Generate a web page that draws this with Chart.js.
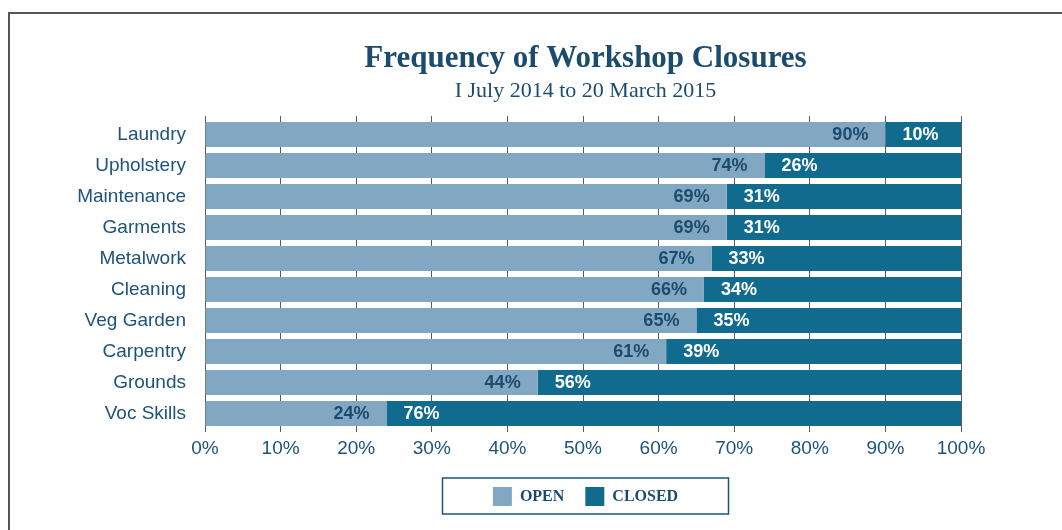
<!DOCTYPE html>
<html>
<head>
<meta charset="utf-8">
<script src="https://cdn.jsdelivr.net/npm/chart.js@4/dist/chart.umd.min.js"></script>
<style>
  html, body { margin: 0; padding: 0; background: #fff; overflow: hidden; }
  #frame { position: absolute; left: 8px; top: 12px; width: 1200px; height: 600px;
           border-top: 2px solid #555; border-left: 2px solid #555; }
  #wrap { position: absolute; left: 10px; top: 0; width: 1151px; height: 530px; }
</style>
</head>
<body>
<div id="frame"></div>
<div id="wrap"><canvas id="chart_workshopClosures"></canvas></div>
<script>
// categories and shares (percent)
var workshops = ['Laundry', 'Upholstery', 'Maintenance', 'Garments', 'Metalwork',
                 'Cleaning', 'Veg Garden', 'Carpentry', 'Grounds', 'Voc Skills'];
var openPct   = [90, 74, 69, 69, 67, 66, 65, 61, 44, 24];
var closedPct = [10, 26, 31, 31, 33, 34, 35, 39, 56, 76];
var xTicks    = [0, 10, 20, 30, 40, 50, 60, 70, 80, 90, 100];

var navy = '#1b4c6e';
var axisBlue = '#1d5379';

function fixedTicks(scale) {
    scale.ticks = xTicks.map(function(v) { return { value: v }; });
}

var chart_workshopClosures = new Chart(document.getElementById('chart_workshopClosures'), {
    type: 'bar',
    data: {
        labels: workshops,
        datasets: [
            {
                label: 'OPEN',
                data: openPct,
                backgroundColor: '#82a7c2',
                borderWidth: 0,
                barPercentage: 0.806,
                categoryPercentage: 1.0
            },
            {
                label: 'CLOSED',
                data: closedPct,
                backgroundColor: '#116b8f',
                borderWidth: 0,
                barPercentage: 0.806,
                categoryPercentage: 1.0
            }
        ]
    },
    options: {
        indexAxis: 'y',
        animation: false,
        responsive: true,
        maintainAspectRatio: false,
        layout: {
            padding: { top: 0, left: 0, right: 0, bottom: 14 }
        },
        plugins: {
            title: {
                display: true,
                text: 'Frequency of Workshop Closures',
                color: navy,
                font: { family: 'Liberation Serif', size: 31, weight: 'bold' },
                padding: { top: 40, bottom: 0 }
            },
            subtitle: {
                display: true,
                text: 'I July 2014 to 20 March 2015',
                color: navy,
                font: { family: 'Liberation Serif', size: 22, weight: 'normal' },
                padding: { top: 1, bottom: 11.4 }
            },
            legend: {
                position: 'bottom',
                labels: {
                    boxWidth: 19,
                    boxHeight: 19,
                    padding: 21,
                    color: navy,
                    font: { family: 'Liberation Serif', size: 16, weight: 'bold' }
                }
            },
            tooltip: { enabled: false }
        },
        scales: {
            x: {
                type: 'linear',
                stacked: true,
                min: 0,
                max: 100,
                afterBuildTicks: fixedTicks,
                ticks: {
                    padding: 5.6,
                    color: axisBlue,
                    font: { family: 'Liberation Sans', size: 19 },
                    callback: function(value) { return value + '%'; }
                },
                grid: {
                    color: '#5a5a5a',
                    lineWidth: 1,
                    drawTicks: true,
                    tickLength: 3
                },
                border: { display: false }
            },
            xTop: {
                type: 'linear',
                position: 'top',
                min: 0,
                max: 100,
                afterBuildTicks: fixedTicks,
                ticks: { display: false },
                grid: {
                    color: '#5a5a5a',
                    drawOnChartArea: false,
                    drawTicks: true,
                    tickLength: 3
                },
                border: { display: false }
            },
            y: {
                stacked: true,
                afterFit: function(scale) { scale.width = 195; },
                ticks: {
                    padding: 19,
                    color: axisBlue,
                    font: { family: 'Liberation Sans', size: 19 }
                },
                grid: { display: false, drawTicks: false },
                border: { display: false }
            },
            // empty strip on the right so the title and legend centre over the plot
            yRight: {
                type: 'category',
                position: 'right',
                afterFit: function(scale) { scale.width = 200; },
                ticks: { display: false },
                grid: { display: false, drawTicks: false },
                border: { display: false }
            }
        }
    },
    plugins: [{
        id: 'barValueLabels',
        afterDatasetsDraw: function(chart) {
            var ctx = chart.ctx;
            ctx.save();
            ctx.font = 'bold 18px "Liberation Sans"';
            ctx.textBaseline = 'middle';
            chart.data.datasets.forEach(function(ds, di) {
                var meta = chart.getDatasetMeta(di);
                meta.data.forEach(function(bar, i) {
                    var txt = ds.data[i] + '%';
                    if (di === 0) {
                        ctx.fillStyle = navy;
                        ctx.textAlign = 'right';
                        ctx.fillText(txt, bar.x - 17, bar.y + 1);
                    } else {
                        ctx.fillStyle = '#ffffff';
                        ctx.textAlign = 'left';
                        ctx.fillText(txt, bar.base + 17, bar.y + 1);
                    }
                });
            });
            ctx.restore();
        }
    }, {
        id: 'legendFrame',
        afterDraw: function(chart) {
            var boxes = chart.legend && chart.legend.legendHitBoxes;
            if (!boxes || !boxes.length) return;
            var minX = Infinity, maxX = -Infinity, minY = Infinity, maxY = -Infinity;
            boxes.forEach(function(b) {
                minX = Math.min(minX, b.left);
                maxX = Math.max(maxX, b.left + b.width);
                minY = Math.min(minY, b.top);
                maxY = Math.max(maxY, b.top + b.height);
            });
            var cx = (minX + maxX) / 2;
            var ctx = chart.ctx;
            ctx.save();
            ctx.strokeStyle = axisBlue;
            ctx.lineWidth = 1.5;
            ctx.strokeRect(cx - 143, minY - 9, 286, (maxY - minY) + 17);
            ctx.restore();
        }
    }]
});
</script>
</body>
</html>
